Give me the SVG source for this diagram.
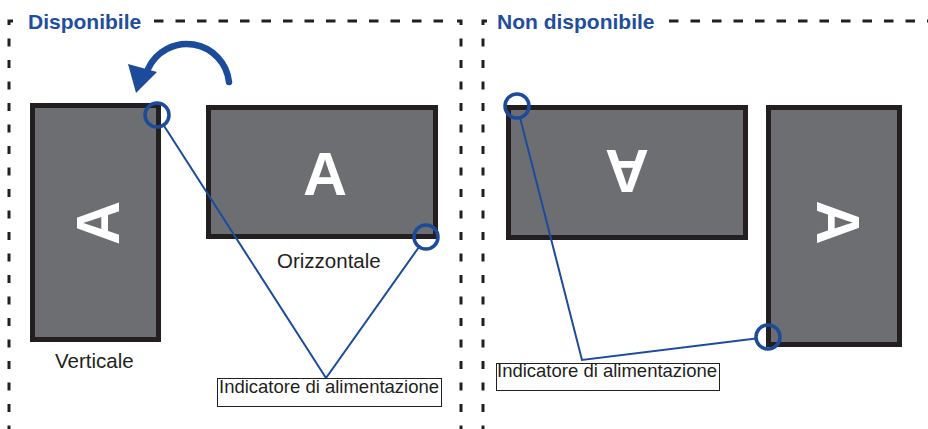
<svg xmlns="http://www.w3.org/2000/svg" width="928" height="429" viewBox="0 0 928 429">
<style>
.frame{fill:none;stroke:#231f20;stroke-width:3;stroke-dasharray:8 13.5}
.hdash{fill:none;stroke:#231f20;stroke-width:3;stroke-dasharray:9.5 12}
.title{font-family:"Liberation Sans",Arial,sans-serif;font-weight:bold;font-size:21px;fill:#1f4e9e}
.mon{fill:#6d6e71;stroke:#231f20;stroke-width:5}
.big{font-family:"Liberation Sans",Arial,sans-serif;font-weight:bold;font-size:61px;fill:#ffffff;text-anchor:middle}
.lbl{font-family:"Liberation Sans",Arial,sans-serif;font-size:20.5px;fill:#231f20}
.ind{font-family:"Liberation Sans",Arial,sans-serif;font-size:18.5px;fill:#231f20}
.box{fill:#ffffff;stroke:#231f20;stroke-width:1}
.led{fill:none;stroke:#1c4b9c;stroke-width:3.5}
.ln{fill:none;stroke:#1c4b9c;stroke-width:2}
</style>
<rect width="928" height="429" fill="#ffffff"/>
<g id="frame-disponibile">
<path class="frame" d="M13,21 H9 V429"/>
<path class="hdash" d="M154,21 H452"/>
<path class="frame" d="M457,21 H461 V429"/>
<text class="title" x="28" y="29">Disponibile</text>
</g>
<g id="frame-non-disponibile">
<path class="frame" d="M487,21 H483 V429"/>
<path class="hdash" d="M669,21 H928"/>
<text class="title" x="497" y="29">Non disponibile</text>
</g>
<g id="rotate-arrow">
<path d="M229,82 A42.5,42.5 0 0 0 148,69" fill="none" stroke="#1c4b9c" stroke-width="6.5" stroke-linecap="round"/>
<polygon points="128,64 157,72 136,93" fill="#1c4b9c"/>
</g>
<g id="monitor-verticale">
<rect class="mon" x="32.5" y="105.5" width="126" height="234"/>
<text class="big" transform="translate(119,223) rotate(-90)" x="0" y="0">A</text>
<text class="lbl" x="55" y="368">Verticale</text>
</g>
<g id="monitor-orizzontale">
<rect class="mon" x="208.5" y="107.5" width="227" height="129"/>
<text class="big" x="325" y="195">A</text>
<text class="lbl" x="277" y="268">Orizzontale</text>
</g>
<g id="monitor-capovolto">
<rect class="mon" x="508.5" y="107.5" width="237" height="130"/>
<text class="big" transform="translate(627,150) rotate(180)" x="0" y="0">A</text>
</g>
<g id="monitor-verticale-dx">
<rect class="mon" x="768.5" y="107.5" width="131" height="237"/>
<text class="big" transform="translate(817,222.5) rotate(90)" x="0" y="0">A</text>
</g>
<g id="connectors">
<polyline class="ln" points="163.5,125 326,378 419,247"/>
<polyline class="ln" points="520,117.5 582,360 756,338.5"/>
</g>
<g id="leds">
<circle class="led" cx="157" cy="115" r="12"/>
<circle class="led" cx="426" cy="237" r="12"/>
<circle class="led" cx="517" cy="106" r="12"/>
<circle class="led" cx="768" cy="337" r="12"/>
</g>
<g id="label-indicatore-sx">
<rect class="box" x="217.5" y="378.5" width="224" height="28"/>
<text class="ind" x="219" y="393">Indicatore di alimentazione</text>
</g>
<g id="label-indicatore-dx">
<rect class="box" x="496.5" y="363.5" width="223" height="27"/>
<text class="ind" x="497" y="377">Indicatore di alimentazione</text>
</g>
</svg>
